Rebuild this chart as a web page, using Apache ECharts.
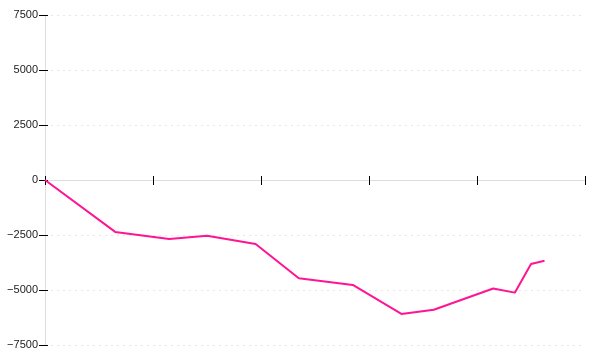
<!DOCTYPE html>
<html><head><meta charset="utf-8">
<script src="https://cdn.jsdelivr.net/npm/echarts@6/dist/echarts.min.js"></script>
<style>html,body{margin:0;padding:0;background:#fff}#c{width:600px;height:360px}</style>
</head><body><div id="c"></div>
<script>
const xValues = [0, 13, 23, 30, 39, 47, 57, 66, 72, 83, 87, 90, 92.5];
const yValues = [0, -2360, -2680, -2530, -2910, -4470, -4770, -6090, -5900, -4930, -5120, -3820, -3670];
const yTicks = [-7500, -5000, -2500, 0, 2500, 5000, 7500];

const data = xValues.map((x, i) => [x, yValues[i]]);
const chart = echarts.init(document.getElementById('c'));
const baseX = {
  type: 'value', min: 0, max: 100, interval: 20, position: 'bottom',
  axisLabel: { show: false },
  splitLine: { show: false }
};
const baseY = {
  type: 'value', min: yTicks[0], max: yTicks[yTicks.length - 1], interval: 2500, position: 'left'
};
chart.setOption({
  animation: false,
  grid: { left: 45, right: 15, top: 15, bottom: 15 },
  xAxis: [
    Object.assign({}, baseX, {
      axisLine: { onZero: true, onZeroAxisIndex: 0, lineStyle: { color: '#dddddd', width: 1 } },
      axisTick: { show: true, inside: false, length: 5, lineStyle: { color: '#000' } }
    }),
    Object.assign({}, baseX, {
      axisLine: { show: false, onZero: true, onZeroAxisIndex: 1 },
      axisTick: { show: true, inside: true, length: 4, lineStyle: { color: '#000' } }
    })
  ],
  yAxis: [
    Object.assign({}, baseY, {
      axisLine: { show: true, lineStyle: { color: '#dddddd' } },
      axisTick: { show: true, length: 6, lineStyle: { color: '#000' } },
      axisLabel: {
        color: '#222', fontFamily: 'Liberation Sans', fontSize: 11, margin: 7,
        formatter: v => String(v).replace('-', '\u2212')
      },
      splitLine: { show: true, lineStyle: { color: '#e8e8e8', type: [2, 4] } }
    }),
    Object.assign({}, baseY, {
      axisLine: { show: false },
      axisTick: { show: true, inside: true, length: 3, lineStyle: { color: '#000' } },
      axisLabel: { show: false },
      splitLine: { show: false }
    })
  ],
  series: [{
    type: 'line', data: data, showSymbol: false, symbol: 'none',
    xAxisIndex: 0, yAxisIndex: 0,
    lineStyle: { color: '#ff1493', width: 2 }, itemStyle: { color: '#ff1493' }
  }]
});
</script></body></html>
